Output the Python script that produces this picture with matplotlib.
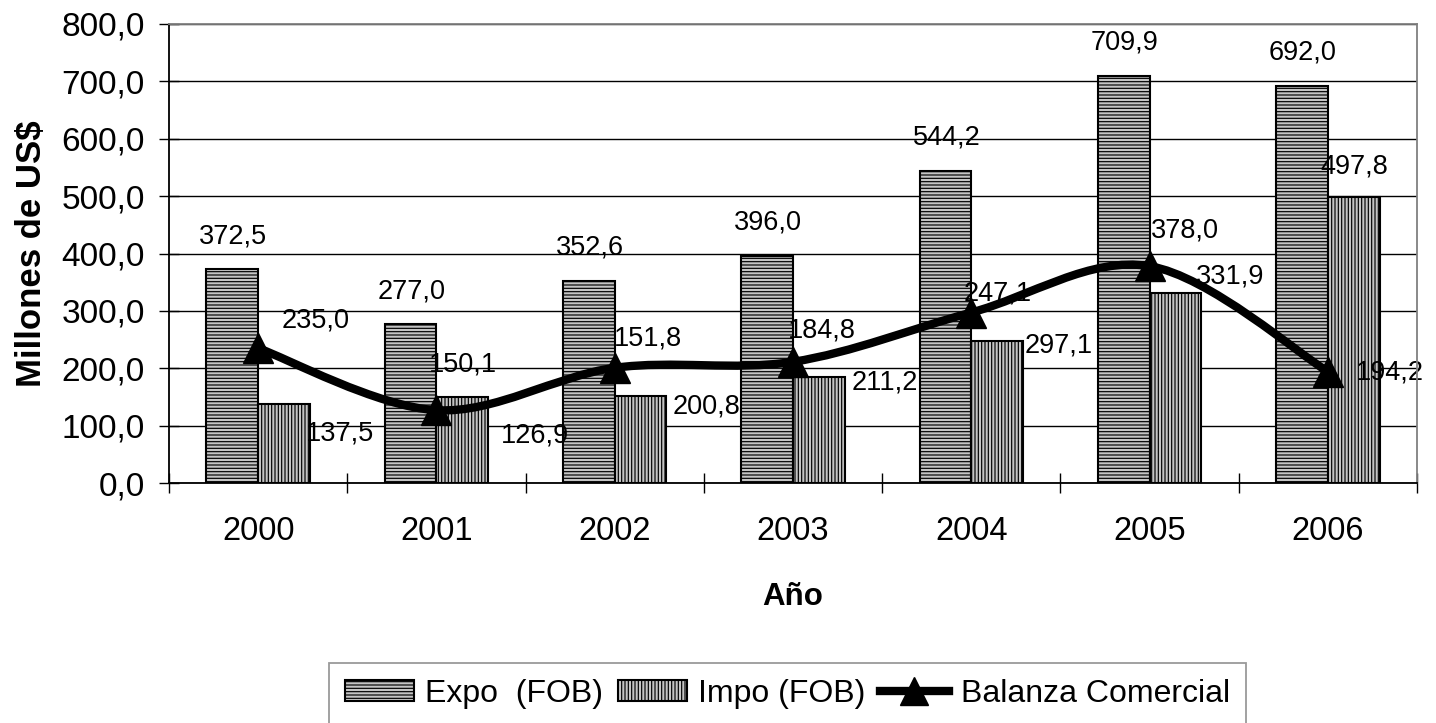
import matplotlib
matplotlib.use("Agg")
import matplotlib.pyplot as plt
import numpy as np
from matplotlib.path import Path
from matplotlib.patches import PathPatch, Patch
from matplotlib.lines import Line2D
from matplotlib.ticker import FixedLocator, NullFormatter

years = ["2000", "2001", "2002", "2003", "2004", "2005", "2006"]
expo = [372.5, 277.0, 352.6, 396.0, 544.2, 709.9, 692.0]
impo = [137.5, 150.1, 151.8, 184.8, 247.1, 331.9, 497.8]
balanza = [235.0, 126.9, 200.8, 211.2, 297.1, 378.0, 194.2]
yticks = [0, 100, 200, 300, 400, 500, 600, 700, 800]

# pixel offsets of the (Excel style, somewhat scattered) data labels
expo_off = [(1, 36)] * 7
impo_off = [(56, -26), (1, 35), (7, 60), (3, 49), (1, 51), (55, 19), (1, 34)]
bal_off = [(57, 31), (99, -22), (92, -36), (92, -18), (87, -30), (35, 39), (62, 2)]

plt.rcParams["font.family"] = ["Liberation Sans", "DejaVu Sans"]
plt.rcParams["hatch.linewidth"] = 0.85


def fmt(v):
    return f"{v:.1f}".replace(".", ",")


def smooth_path(xs, ys):
    # Bezier curve through the points, like Excel's "smoothed line"
    pts = np.column_stack([xs, ys]).astype(float)
    ext = np.vstack([pts[0], pts, pts[-1]])
    verts = [pts[0]]
    codes = [Path.MOVETO]
    for i in range(len(pts) - 1):
        p0, p1, p2, p3 = ext[i], ext[i + 1], ext[i + 2], ext[i + 3]
        verts += [p1 + (p2 - p0) / 6, p2 - (p3 - p1) / 6, p2]
        codes += [Path.CURVE4] * 3
    return Path(verts, codes)


fig = plt.figure(figsize=(14.36, 7.23), dpi=100)
ax = fig.add_axes([169 / 1436, 1 - 483 / 723, 1248 / 1436, 459 / 723])

x = np.arange(len(years))
w = 0.29
bar_fc = "#c4c4c4"
ax.bar(x - w / 2, expo, w, color=bar_fc, edgecolor="black", linewidth=1.5,
       hatch="-----", zorder=2)
ax.bar(x + w / 2, impo, w, color=bar_fc, edgecolor="black", linewidth=1.5,
       hatch="|||||", zorder=2)

ax.add_patch(PathPatch(smooth_path(x, balanza), fill=False, lw=6,
                       edgecolor="black", capstyle="round", zorder=3))
ax.plot(x, balanza, ls="none", marker="^", ms=22, color="black", zorder=4)

# data labels
lab_kw = dict(textcoords="offset pixels", ha="center", va="center",
              fontsize=19.5, zorder=2.5)
for i in range(len(years)):
    dx, dy = expo_off[i]
    ax.annotate(fmt(expo[i]), (x[i] - w / 2, expo[i]), xytext=(dx, dy - 3), **lab_kw)
    dx, dy = impo_off[i]
    ax.annotate(fmt(impo[i]), (x[i] + w / 2, impo[i]), xytext=(dx, dy - 3), **lab_kw)
    dx, dy = bal_off[i]
    ax.annotate(fmt(balanza[i]), (x[i], balanza[i]), xytext=(dx, dy - 3), **lab_kw)

ax.set_xlim(-0.5, len(years) - 0.5)
ax.set_ylim(0, 800)
ax.set_yticks(yticks)
ax.set_yticklabels([fmt(v) for v in yticks])
ax.xaxis.set_major_locator(FixedLocator(np.arange(-0.5, len(years), 1)))
ax.xaxis.set_major_formatter(NullFormatter())
ax.set_xticks(x, minor=True)
ax.set_xticklabels(years, minor=True)
ax.tick_params(which="major", direction="inout", length=15, width=1,
               labelsize=24)
ax.tick_params(axis="y", pad=10)
ax.tick_params(axis="x", which="minor", length=0, pad=24, labelsize=23.5)

ax.yaxis.grid(True, color="black", lw=1)
ax.set_axisbelow(True)
for side in ["top", "right"]:
    ax.spines[side].set_color("#808080")
for sp in ax.spines.values():
    sp.set_linewidth(1.3)

ax.set_ylabel("Millones de US$", fontsize=25, fontweight="bold", va="center")
ax.yaxis.set_label_coords(-0.11, 0.5)
ax.set_xlabel("Año", fontsize=22.5, fontweight="bold", va="center")
ax.xaxis.set_label_coords(0.5, (483 - 597) / 459)

handles = [
    Patch(facecolor=bar_fc, edgecolor="black", hatch="-----", lw=1.5),
    Patch(facecolor=bar_fc, edgecolor="black", hatch="|||||", lw=1.5),
    Line2D([], [], color="black", lw=6, marker="^", ms=20),
]
labels = ["Expo  (FOB)", "Impo (FOB)", "Balanza Comercial"]
leg = fig.legend(handles, labels, loc="upper left",
                 bbox_to_anchor=(329 / 1436, 1 - 663 / 723), ncol=3,
                 frameon=True, fancybox=False, edgecolor="#808080",
                 fontsize=23, handlelength=2.15, handletextpad=0.37,
                 columnspacing=0.45, borderpad=0.5, borderaxespad=0,
                 handleheight=0.65)
leg.get_frame().set_linewidth(1.3)

fig.savefig("out.png", dpi=100)
